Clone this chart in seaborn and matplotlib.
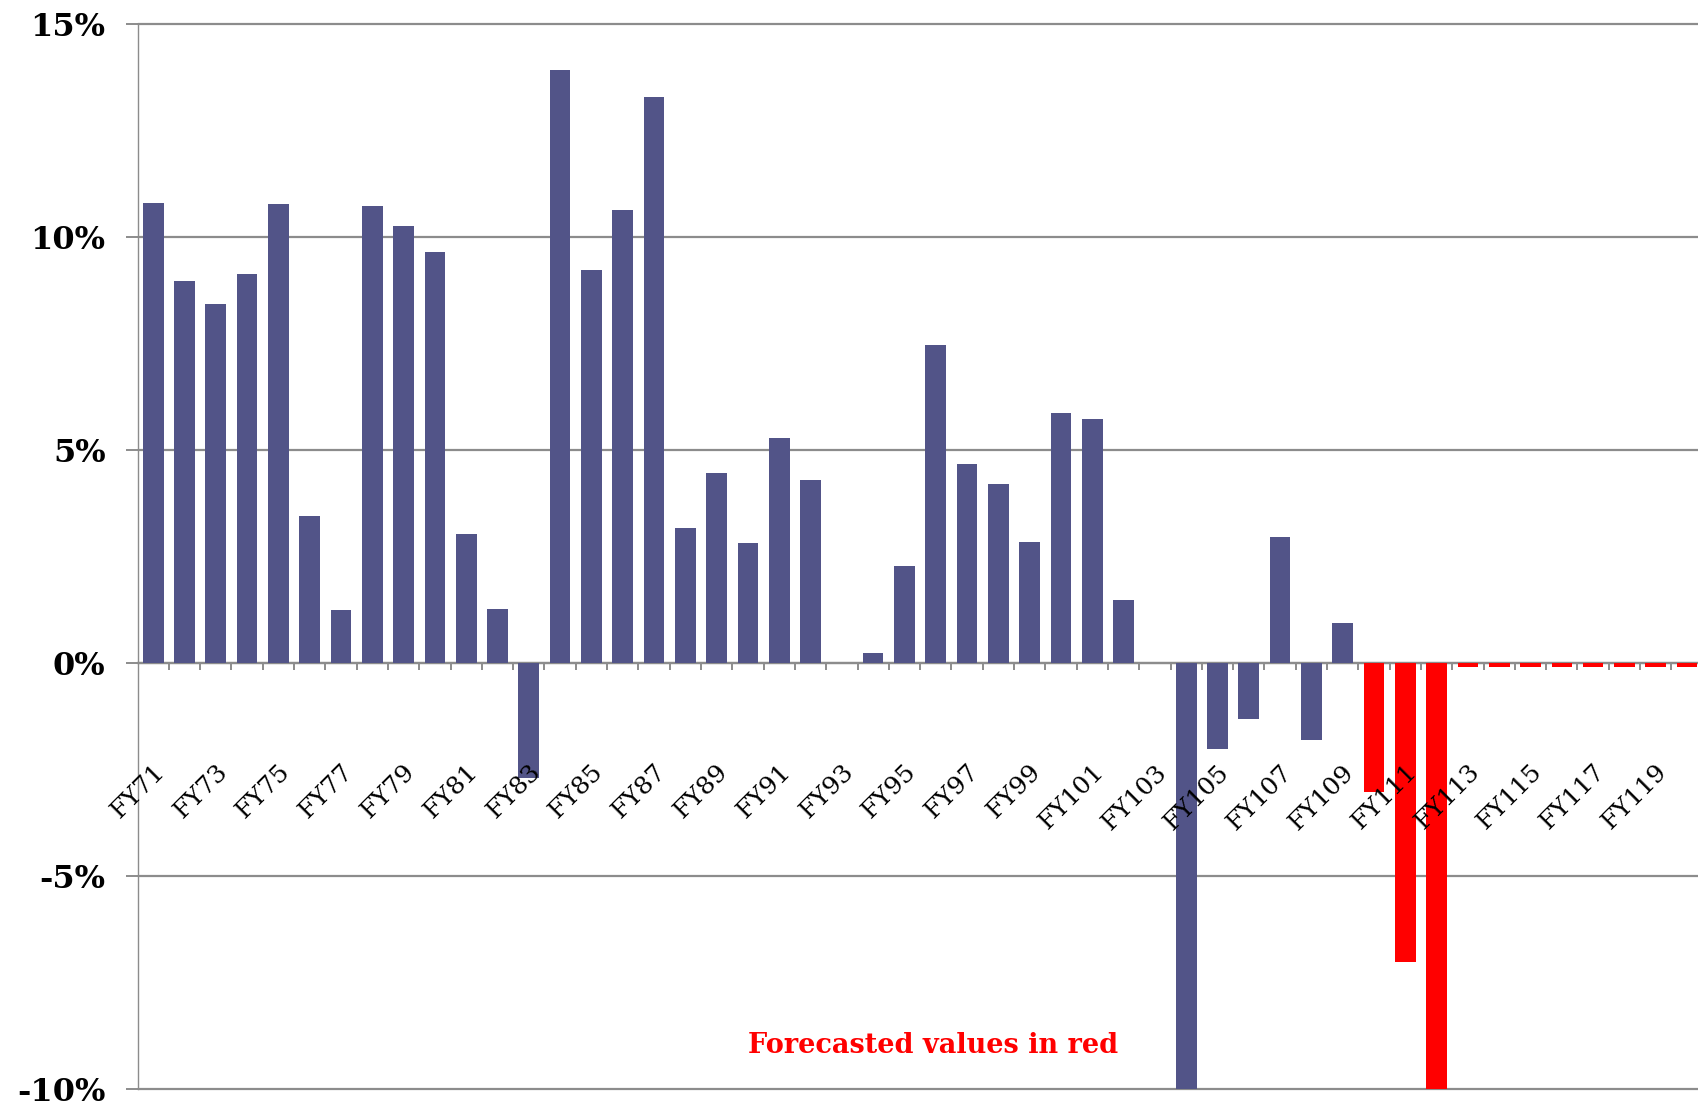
import matplotlib
matplotlib.use("Agg")
import matplotlib.pyplot as plt
from matplotlib.transforms import ScaledTranslation
import seaborn as sns
import pandas as pd
import numpy as np

# Fiscal years shown on the category axis
years = [f"FY{y}" for y in range(71, 121)]

# Annual growth rate (%) for each fiscal year
growth = [
    10.80, 8.97, 8.43, 9.14, 10.78, 3.46, 1.24, 10.72, 10.27, 9.65,
    3.03, 1.28, -2.69, 13.91, 9.23, 10.64, 13.28, 3.18, 4.47, 2.82,
    5.29, 4.30, 0.0, 0.24, 2.29, 7.47, 4.68, 4.20, 2.85, 5.88,
    5.73, 1.49, 0.0, -10.4, -2.01, -1.31, 2.96, -1.81, 0.95, -3.02,
    -7.01, -10.0, -0.1, -0.1, -0.1, -0.1, -0.1, -0.1, -0.1, -0.1,
]

# Which values are actuals and which are forecasts
first_forecast = "FY110"
kind = ["Forecast" if int(y[2:]) >= int(first_forecast[2:]) else "Actual" for y in years]

ytick_values = [-10, -5, 0, 5, 10, 15]
ytick_labels = ["-10%", "-5%", "0%", "5%", "10%", "15%"]

df = pd.DataFrame({"year": years, "growth": growth, "kind": kind})

sns.set_theme(style="white")
plt.rcParams["font.family"] = ["DejaVu Serif"]

fig = plt.figure(figsize=(16.98, 11.05), dpi=100)
ax = fig.add_axes([0.081, 0.0142, 0.919, 0.9641])

grid_color = "#8c8c8c"

sns.barplot(
    data=df, x="year", y="growth", hue="kind", order=years,
    hue_order=["Actual", "Forecast"],
    palette={"Actual": "#525488", "Forecast": "#ff0000"},
    dodge=False, width=0.66, saturation=1, errorbar=None,
    legend=False, ax=ax, zorder=3, linewidth=0,
)

ax.set_ylim(-10, 15)
ax.set_xlim(-0.5, 49.35)
ax.set_xlabel("")
ax.set_ylabel("")

# Horizontal gridlines behind the bars, category labels in front of them
ax.set_axisbelow(True)
ax.xaxis.set_zorder(5)
ax.set_yticks(ytick_values)
ax.set_yticklabels(ytick_labels, fontsize=23, fontweight="bold", color="black")
ax.yaxis.grid(True, color=grid_color, linewidth=1.6)
for gl in ax.get_ygridlines():
    gl.set_clip_on(False)
ax.tick_params(axis="y", direction="out", length=9, width=1.4,
               color=grid_color, pad=14, left=True)

# Category axis runs along the zero line
for side in ("top", "right"):
    ax.spines[side].set_visible(False)
ax.spines["bottom"].set_position(("data", 0))
ax.spines["bottom"].set_color(grid_color)
ax.spines["bottom"].set_linewidth(1.6)
ax.spines["left"].set_color(grid_color)
ax.spines["left"].set_linewidth(1.0)

# Tick marks between categories, labels on every other year
ax.set_xticks(np.arange(0.5, len(years) - 0.5), minor=True)
ax.set_xticks(np.arange(0, len(years), 2))
ax.set_xticklabels(years[::2], fontsize=18, rotation=45, ha="right",
                   va="top", rotation_mode="anchor", color="black")
ax.tick_params(axis="x", which="major", length=0, pad=70, bottom=True)
ax.tick_params(axis="x", which="minor", direction="out", length=5,
               width=1.4, color=grid_color, bottom=True)
shift = ScaledTranslation(0.0, 0, fig.dpi_scale_trans)
for lbl in ax.get_xticklabels():
    lbl.set_transform(lbl.get_transform() + shift)

ax.text(0.510, 0.0407, "Forecasted values in red", transform=ax.transAxes,
        ha="center", va="center", fontsize=19.5, fontweight="bold",
        color="#ff0000")

fig.savefig("out.png", dpi=100)
